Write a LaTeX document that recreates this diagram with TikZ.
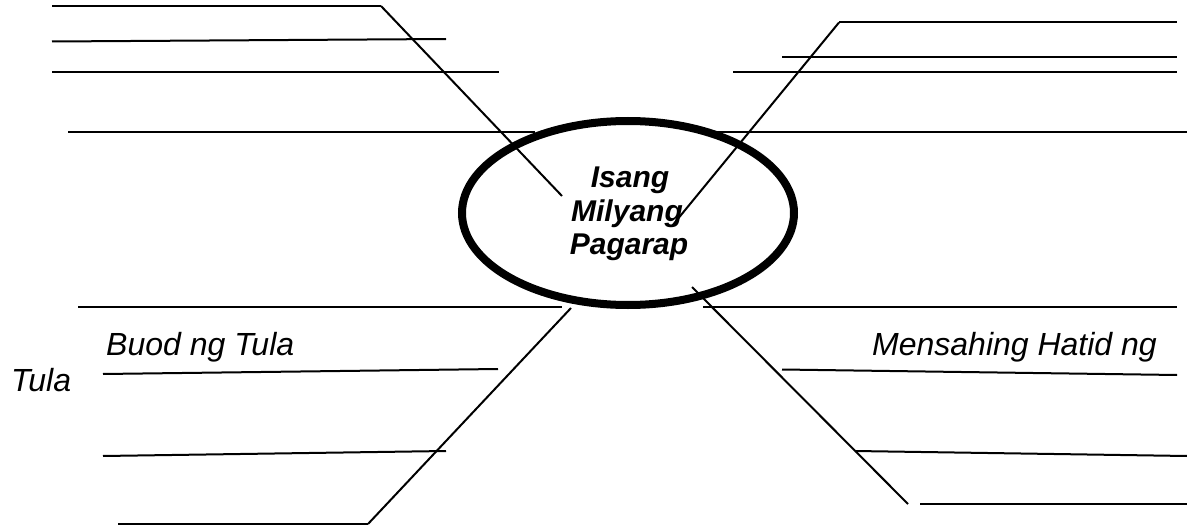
\documentclass[tikz,border=0pt]{standalone}
\usepackage{fontspec}
\setmainfont{Liberation Sans}
\begin{document}
\begin{tikzpicture}[x=1pt,y=-1pt,
  rule/.style={draw=black,line width=2pt},
  spoke/.style={draw=black,line width=2pt},
  hub/.style={draw=black,line width=8pt,fill=white},
  title/.style={font=\bfseries\itshape\fontsize{30}{35}\selectfont,anchor=base,inner sep=0pt},
  label/.style={font=\itshape\fontsize{32}{37}\selectfont,anchor=base west,inner sep=0pt}]
\useasboundingbox (0,0) rectangle (1187,527);
% horizontal writing lines, top-left
\draw[rule] (52,6) -- (381,6);
\draw[rule] (52,41.5) -- (446,39);
\draw[rule] (52,72) -- (499,72);
\draw[rule] (68,132) -- (535,132);
% top-right
\draw[rule] (839,22.5) -- (1177,22.5);
\draw[rule] (782,57.5) -- (1177,57.5);
\draw[rule] (733,72) -- (1177,72);
\draw[rule] (690,132) -- (1187,132);
% bottom-left
\draw[rule] (78,307) -- (562,307);
\draw[rule] (103,374) -- (498,369);
\draw[rule] (103,456) -- (446,451);
\draw[rule] (118,524) -- (368,524);
% bottom-right
\draw[rule] (703,307) -- (1177,307);
\draw[rule] (782,369.5) -- (1177,375);
\draw[rule] (855,451) -- (1187,456);
\draw[rule] (920,504) -- (1187,504);
% central ellipse
\path[hub] (628,213) ellipse [x radius=166, y radius=92];
\node[title] (t1) at (630,187) {Isang};
\node[title] (t2) at (627,221) {Milyang};
\node[title] (t3) at (629,254) {Pagarap};
% spokes
\coordinate (a1) at (381,6);   \coordinate (a2) at (562,196);
\coordinate (b1) at (839,22.5); \coordinate (b2) at (672,226);
\coordinate (c1) at (571,308); \coordinate (c2) at (368,524);
\coordinate (d1) at (692,287); \coordinate (d2) at (908,504);
\draw[spoke] (a1) -- (a2);
\draw[spoke] (b1) -- (b2);
\draw[spoke] (c1) -- (c2);
\draw[spoke] (d1) -- (d2);
% labels
\node[label] (buod) at (106,355) {Buod ng Tula};
\node[label] (tula) at (11,391) {Tula};
\node[label] (mens) at (872,355) {Mensahing Hatid ng};
\end{tikzpicture}
\end{document}
